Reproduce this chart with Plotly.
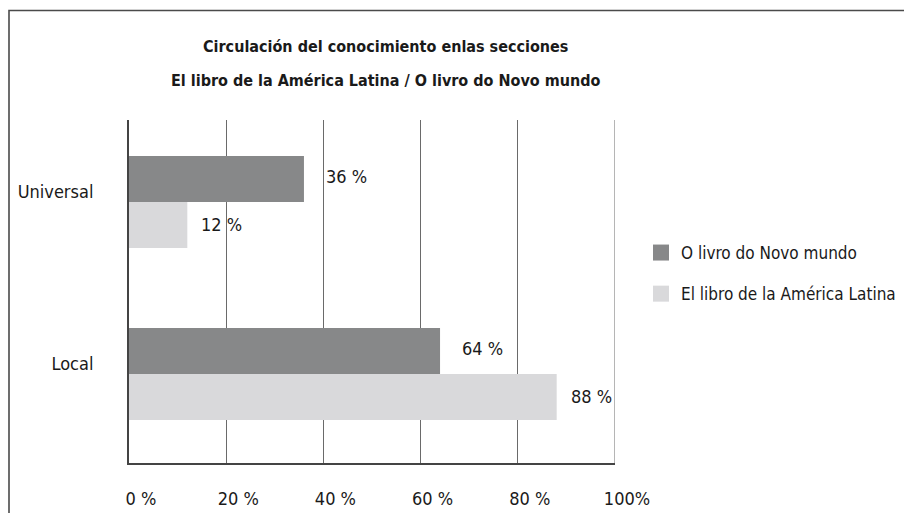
import plotly.graph_objects as go

# ---- data ----
categories = ["Local", "Universal"]
series_names = ["O livro do Novo mundo", "El libro de la América Latina"]
novo_mundo = [64, 36]
america_latina = [88, 12]
x_tick_vals = [0, 20, 40, 60, 80, 100]
x_tick_text = ["0 %", "20 %", "40 %", "60 %", "80 %", "100%"]
title_lines = ["Circulación del conocimiento enlas secciones",
               "El libro de la América Latina / O livro do Novo mundo"]

# ---- style ----
OFF = 8                      # page body margin
W, H = 912 - OFF, 521 - 2 * OFF
L, R, T, B = 129 - OFF, 615 - OFF, 120 - OFF, 463 - OFF
FONT = "Liberation Sans Narrow, DejaVu Sans Condensed, Arial Narrow, sans-serif"
FS = 18
DARK = "#878889"
LIGHT = "#d9d9db"
TXT = "#1a1a1a"
GRID = "#6a6a6a"

def px_x(p):                 # p: screen pixel
    return (p - OFF - L) / (R - L)

def px_y(p):
    return (B - (p - OFF)) / (B - T)

fig = go.Figure()
# light first so that it sits below the dark bar in each group
fig.add_trace(go.Bar(y=categories, x=america_latina, orientation="h",
                     marker=dict(color=LIGHT, line=dict(width=0)),
                     name=series_names[1], showlegend=False, hoverinfo="x"))
fig.add_trace(go.Bar(y=categories, x=novo_mundo, orientation="h",
                     marker=dict(color=DARK, line=dict(width=0)),
                     name=series_names[0], showlegend=False, hoverinfo="x"))

# legend entries
fig.add_trace(go.Scatter(x=[None], y=[None], mode="markers", name=series_names[0],
                         marker=dict(symbol="square", size=19, color=DARK),
                         legendgroup="a", legendrank=1))
fig.add_trace(go.Scatter(x=[None], y=[None], mode="markers", name=series_names[1],
                         marker=dict(symbol="square", size=19, color=LIGHT),
                         legendgroup="b", legendrank=2))

annotations = []
for cat, v in zip(categories, novo_mundo):
    annotations.append(dict(x=v, y=cat, xref="x", yref="y", text=f"{v} %",
                            showarrow=False, xanchor="left", yanchor="middle",
                            xshift=20, yshift=26,
                            font=dict(family=FONT, size=FS, color=TXT)))
for cat, v in zip(categories, america_latina):
    annotations.append(dict(x=v, y=cat, xref="x", yref="y", text=f"{v} %",
                            showarrow=False, xanchor="left", yanchor="middle",
                            xshift=12, yshift=-22,
                            font=dict(family=FONT, size=FS, color=TXT)))
for i, line in enumerate(title_lines):
    annotations.append(dict(x=px_x(385), y=px_y(47 + 33 * i), xref="paper", yref="paper",
                            text=f"<b>{line}</b>", showarrow=False,
                            xanchor="center", yanchor="middle",
                            font=dict(family=FONT, size=16, color=TXT)))

shapes = [
    dict(type="rect", xref="paper", yref="paper",
         x0=px_x(9), x1=px_x(910.5), y0=px_y(560), y1=px_y(10.5),
         line=dict(color="#4a4a4a", width=1.6), fillcolor="rgba(0,0,0,0)",
         layer="below"),
    # gridline at the 100 % edge
    dict(type="line", xref="x", yref="paper", x0=x_tick_vals[-1], x1=x_tick_vals[-1],
         y0=0, y1=1, line=dict(color=GRID, width=1), layer="above"),
]

fig.update_layout(
    width=W, height=H,
    margin=dict(l=L, r=W - R, t=T, b=H - B, pad=0, autoexpand=False),
    paper_bgcolor="white", plot_bgcolor="white",
    barmode="group", bargap=0.465, bargroupgap=0,
    font=dict(family=FONT, size=FS, color=TXT),
    showlegend=True,
    legend=dict(x=px_x(641), y=px_y(235), xanchor="left", yanchor="top",
                font=dict(family=FONT, size=17, color=TXT),
                tracegroupgap=16, itemsizing="trace",
                bgcolor="rgba(0,0,0,0)"),
    annotations=annotations,
    shapes=shapes,
)
fig.update_xaxes(range=[0, 100], tickvals=x_tick_vals, ticktext=x_tick_text,
                 showgrid=True, gridcolor=GRID, gridwidth=1,
                 showline=True, linecolor="#444444", linewidth=2,
                 zeroline=False, ticks="", ticklabelstandoff=18, ticklabelshift=12,
                 tickfont=dict(family=FONT, size=FS, color=TXT), fixedrange=True)
fig.update_yaxes(type="category", categoryorder="array", categoryarray=categories,
                 range=[-0.517, 1.477], showgrid=False,
                 showline=True, linecolor="#444444", linewidth=2,
                 zeroline=False, ticks="", ticklabelstandoff=30, ticklabelshift=-10,
                 tickfont=dict(family=FONT, size=FS, color=TXT), fixedrange=True)

fig.write_html("out.html")
